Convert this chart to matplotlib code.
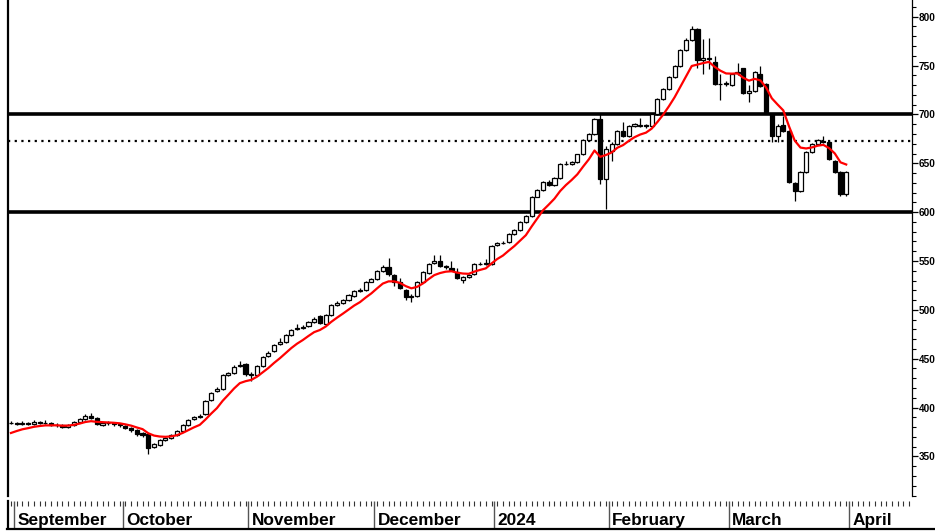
import numpy as np
import matplotlib
matplotlib.use("Agg")
import matplotlib.pyplot as plt
from matplotlib.lines import Line2D

plt.rcParams['font.family'] = ['Liberation Sans', 'DejaVu Sans']

# daily candles (Aug 31 2023 .. end of March 2024)
opens = [384, 384, 383, 384, 383, 385, 384, 384, 382, 382,
         380, 382, 385, 388, 391, 389, 382, 384, 384, 383,
         381, 379, 377, 374, 373, 360, 362, 367, 369, 372,
         376, 382, 388, 390, 393, 408, 417, 419, 433, 435,
         443, 445, 434, 433, 443, 453, 458, 465, 467, 474,
         480, 481, 483, 488, 494, 486, 495, 505, 507, 510,
         514, 519, 520, 529, 532, 540, 544, 536, 529, 520,
         513, 514, 529, 538, 548, 550, 545, 543, 539, 531,
         534, 537, 547, 547, 547, 566, 568, 569, 578, 582,
         590, 596, 616, 623, 631, 628, 635, 649, 649, 651,
         659, 674, 680, 695, 634, 663, 670, 683, 678, 688,
         688, 689, 688, 700, 716, 726, 738, 750, 766, 776,
         787, 756, 757, 754, 731, 731, 730, 742, 747, 722,
         724, 741, 731, 700, 678, 689, 683, 630, 622, 641,
         662, 670, 673, 672, 652, 641, 619]
closes = [384, 383, 384, 383, 385, 384, 384, 382, 382, 380,
          382, 385, 388, 391, 389, 383, 384, 384, 383, 382,
          379, 377, 373, 372, 359, 363, 367, 369, 372, 376,
          382, 387, 390, 391, 407, 415, 419, 433, 435, 442,
          444, 434, 433, 443, 452, 456, 464, 467, 474, 479,
          481, 482, 488, 491, 487, 495, 505, 507, 510, 515,
          519, 520, 529, 532, 540, 544, 537, 529, 522, 513,
          514, 529, 539, 547, 550, 545, 544, 541, 533, 534,
          536, 547, 547, 548, 565, 568, 568, 578, 582, 590,
          596, 616, 623, 631, 628, 635, 649, 649, 651, 659,
          674, 680, 695, 634, 665, 670, 683, 678, 688, 690,
          689, 688, 700, 716, 726, 738, 750, 766, 776, 787,
          756, 758, 758, 731, 731, 732, 741, 743, 722, 724,
          743, 729, 702, 678, 688, 683, 631, 622, 641, 662,
          670, 674, 672, 654, 641, 619, 641]
highs = [386, 385, 386, 385, 387, 386, 387, 385, 384, 383,
         383, 386, 389, 393, 394, 390, 385, 386, 385, 384,
         382, 380, 378, 375, 374, 364, 368, 370, 373, 377,
         383, 388, 391, 393, 408, 416, 421, 434, 436, 444,
         448, 446, 436, 444, 453, 458, 465, 471, 475, 480,
         486, 484, 489, 493, 495, 496, 506, 509, 511, 516,
         520, 522, 530, 533, 541, 546, 553, 537, 533, 521,
         516, 530, 540, 548, 556, 556, 546, 550, 543, 535,
         537, 548, 549, 552, 566, 569, 570, 579, 583, 591,
         597, 617, 624, 632, 633, 636, 650, 652, 652, 660,
         675, 681, 696, 700, 668, 672, 684, 692, 689, 691,
         696, 690, 701, 717, 727, 739, 751, 767, 778, 791,
         788, 777, 778, 760, 741, 734, 742, 753, 748, 730,
         744, 750, 732, 701, 690, 698, 684, 631, 642, 663,
         671, 675, 678, 673, 653, 642, 642]
lows = [383, 382, 382, 382, 382, 383, 383, 381, 380, 379,
        379, 381, 384, 387, 388, 382, 381, 382, 381, 380,
        378, 375, 371, 370, 352, 359, 361, 366, 368, 371,
        375, 381, 387, 389, 392, 407, 416, 418, 432, 434,
        442, 432, 427, 432, 442, 452, 457, 464, 466, 473,
        479, 480, 482, 487, 486, 485, 494, 504, 506, 509,
        513, 518, 519, 528, 531, 539, 535, 524, 521, 510,
        508, 513, 528, 537, 547, 544, 542, 540, 532, 527,
        533, 536, 546, 546, 546, 565, 567, 568, 577, 581,
        589, 595, 615, 622, 627, 627, 634, 648, 648, 650,
        658, 673, 679, 629, 603, 652, 669, 677, 677, 687,
        687, 686, 687, 699, 715, 725, 737, 749, 765, 775,
        748, 741, 746, 730, 715, 729, 729, 740, 721, 713,
        723, 728, 700, 672, 672, 682, 630, 611, 621, 640,
        661, 669, 671, 653, 640, 617, 617]

month_names = ["September", "October", "November", "December",
               "2024", "February", "March", "April"]
month_first_day = [1, 20, 42, 64, 85, 105, 126, 147]

solid_levels = [700, 600]
dotted_level = 673
EMA_SPAN = 8
EMA_SEED = 374   # where the average enters on the left edge

W, H = 935, 532
XMIN, XMAX = -0.52, 157.5


def main():
    o = np.array(opens, float)
    c = np.array(closes, float)
    hi = np.array(highs, float)
    lo = np.array(lows, float)
    x = np.arange(len(c))

    # exponential moving average of closes
    alpha = 2.0 / (EMA_SPAN + 1)
    ema = np.empty_like(c)
    e = EMA_SEED
    for i, v in enumerate(c):
        if i > 0:
            e += alpha * (v - e)
        ema[i] = e

    fig = plt.figure(figsize=(W / 100, H / 100), dpi=100)
    ax = fig.add_axes([8 / W, 36 / H, 904 / W, 496 / H])

    for lvl in solid_levels:
        ax.axhline(lvl, color="black", lw=2.6, zorder=1)
    ax.axhline(dotted_level, color="black", lw=1.6, ls=(0, (1, 2)), zorder=1)

    up = c >= o
    ax.vlines(x, lo, hi, color="black", lw=0.9, zorder=2)
    bottoms = np.minimum(o, c)
    heights = np.abs(c - o)
    ax.bar(x[up], heights[up], bottom=bottoms[up], width=0.72,
           facecolor="white", edgecolor="black", lw=0.9, zorder=3)
    ax.bar(x[~up], heights[~up], bottom=bottoms[~up], width=0.72,
           facecolor="black", edgecolor="black", lw=0.9, zorder=3)

    ax.plot(x, ema, color="#ff0000", lw=1.6, zorder=4)

    ax.set_xlim(XMIN, XMAX)
    ax.set_ylim(309.5, 817.1)
    ax.set_xticks([])
    ax.yaxis.tick_right()
    ax.set_yticks(np.arange(350, 801, 50))
    ax.set_yticks(np.arange(310, 820, 10), minor=True)
    ax.tick_params(axis="y", which="major", length=4, width=0.9, pad=1,
                   labelsize=7.2)
    ax.tick_params(axis="y", which="minor", length=3, width=0.8)
    for lab in ax.get_yticklabels():
        lab.set_fontweight("bold")
    for side in ("top", "bottom"):
        ax.spines[side].set_visible(False)
    ax.spines["left"].set_linewidth(1.6)
    ax.spines["right"].set_linewidth(0.9)

    # date strip below the price panel
    axd = fig.add_axes([8 / W, 4 / H, 904 / W, 27 / H])
    axd.set_xlim(XMIN, XMAX)
    axd.set_ylim(0, 1)
    axd.set_yticks([])
    axd.xaxis.tick_top()
    axd.set_xticks([d - 0.5 for d in month_first_day])
    axd.set_xticks(np.arange(0, int(XMAX) + 1), minor=True)
    axd.tick_params(axis="x", which="major", direction="in", length=19.5,
                    width=1.0, color="#555555", labeltop=False, labelbottom=False)
    axd.tick_params(axis="x", which="minor", direction="in", length=3.6,
                    width=0.8, color="#333333")
    for side in ("top", "right", "bottom"):
        axd.spines[side].set_visible(False)
    axd.spines["left"].set_linewidth(1.6)
    for name, d in zip(month_names, month_first_day):
        axd.text(d - 0.5 + 0.6, 0.12, name, fontsize=12.4, fontweight="bold",
                 ha="left", va="baseline")

    fig.add_artist(Line2D([7 / W, 1.0], [3.5 / H, 3.5 / H], color="black",
                          lw=1.6, transform=fig.transFigure))

    fig.savefig("out.png", dpi=100)


if __name__ == "__main__":
    main()
